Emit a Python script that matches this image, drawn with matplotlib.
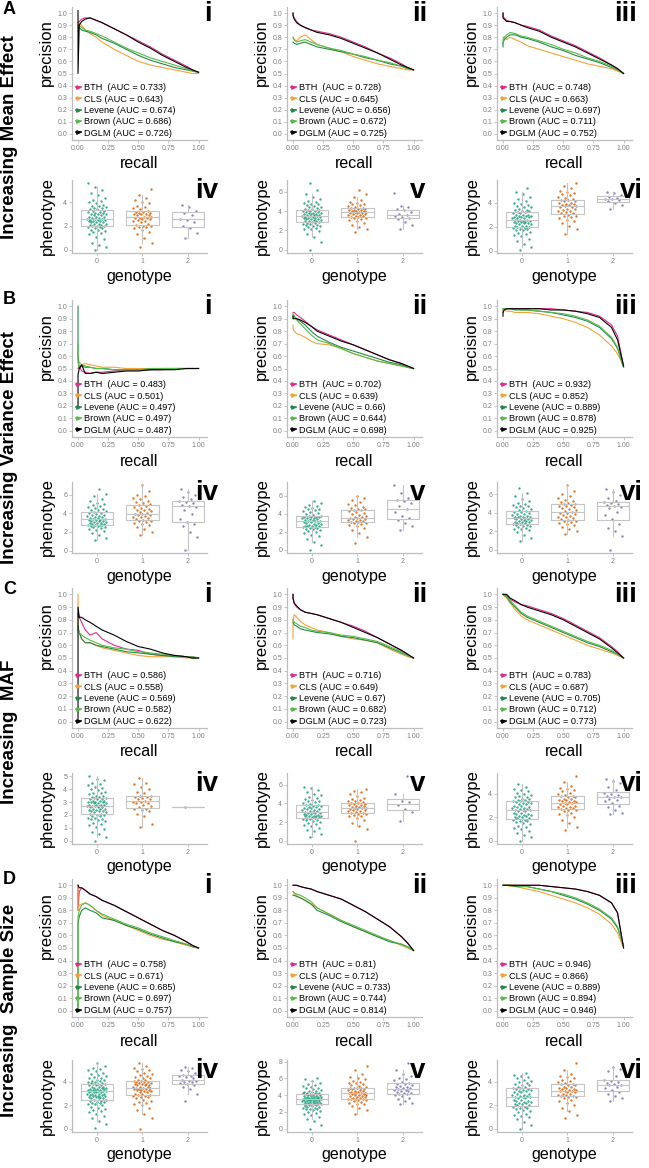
import numpy as np
import matplotlib
matplotlib.use("Agg")
import matplotlib.pyplot as plt
from matplotlib.lines import Line2D
from matplotlib.ticker import MultipleLocator

plt.rcParams['font.family'] = ['Liberation Sans', 'DejaVu Sans']

# ---------------- data ----------------
methods = ["BTH", "CLS", "Levene", "Brown", "DGLM"]
method_colors = ["#e7298a", "#f4a23a", "#23894a", "#55bb46", "#000000"]
recall = [0, 0, 0.01, 0.03, 0.06, 0.1, 0.15, 0.2, 0.3, 0.4, 0.5, 0.6, 0.7, 0.8, 0.9, 0.95, 1.0]

# precision per method (BTH, CLS, Levene, Brown, DGLM)
prec_A1 = [[0.92, 0.92, 0.93, 0.95, 0.96, 0.96, 0.94, 0.92, 0.87, 0.82, 0.77, 0.72, 0.66, 0.61, 0.56, 0.53, 0.51],
           [0.90, 0.90, 0.92, 0.90, 0.86, 0.83, 0.80, 0.76, 0.70, 0.65, 0.60, 0.57, 0.55, 0.53, 0.51, 0.50, 0.50],
           [0.85, 0.85, 0.88, 0.86, 0.85, 0.84, 0.82, 0.79, 0.75, 0.70, 0.65, 0.61, 0.58, 0.55, 0.53, 0.52, 0.51],
           [0.88, 0.88, 0.90, 0.88, 0.86, 0.85, 0.83, 0.81, 0.76, 0.71, 0.67, 0.63, 0.60, 0.57, 0.54, 0.52, 0.51],
           [1.02, 0.50, 0.90, 0.93, 0.95, 0.96, 0.94, 0.92, 0.87, 0.82, 0.76, 0.71, 0.65, 0.60, 0.55, 0.53, 0.51]]
prec_A2 = [[1.00, 0.98, 0.96, 0.93, 0.90, 0.88, 0.86, 0.85, 0.83, 0.80, 0.76, 0.72, 0.67, 0.63, 0.58, 0.55, 0.53],
           [0.80, 0.80, 0.78, 0.77, 0.80, 0.82, 0.78, 0.74, 0.71, 0.68, 0.64, 0.61, 0.58, 0.56, 0.54, 0.53, 0.53],
           [0.76, 0.76, 0.75, 0.74, 0.75, 0.76, 0.74, 0.72, 0.70, 0.68, 0.66, 0.63, 0.61, 0.58, 0.56, 0.54, 0.53],
           [0.80, 0.80, 0.78, 0.76, 0.77, 0.78, 0.76, 0.74, 0.71, 0.69, 0.66, 0.64, 0.61, 0.59, 0.56, 0.54, 0.53],
           [1.00, 0.98, 0.95, 0.92, 0.90, 0.88, 0.86, 0.84, 0.82, 0.79, 0.75, 0.71, 0.67, 0.62, 0.57, 0.55, 0.53]]
prec_A3 = [[1.00, 0.97, 0.96, 0.94, 0.93, 0.92, 0.90, 0.89, 0.86, 0.81, 0.77, 0.73, 0.68, 0.63, 0.57, 0.54, 0.50],
           [0.80, 0.80, 0.80, 0.78, 0.80, 0.78, 0.76, 0.73, 0.70, 0.67, 0.64, 0.61, 0.58, 0.56, 0.54, 0.52, 0.50],
           [0.72, 0.75, 0.78, 0.80, 0.82, 0.82, 0.80, 0.79, 0.76, 0.72, 0.69, 0.65, 0.62, 0.59, 0.55, 0.53, 0.50],
           [0.74, 0.78, 0.80, 0.82, 0.84, 0.83, 0.81, 0.80, 0.77, 0.74, 0.70, 0.67, 0.63, 0.60, 0.56, 0.53, 0.50],
           [1.00, 0.96, 0.95, 0.93, 0.93, 0.92, 0.90, 0.88, 0.85, 0.80, 0.76, 0.72, 0.67, 0.62, 0.57, 0.54, 0.50]]
prec_B1 = [[0.50, 0.50, 0.52, 0.48, 0.47, 0.46, 0.47, 0.47, 0.48, 0.49, 0.49, 0.49, 0.49, 0.50, 0.50, 0.50, 0.50],
           [0.58, 0.58, 0.55, 0.53, 0.54, 0.53, 0.52, 0.51, 0.51, 0.50, 0.50, 0.50, 0.50, 0.50, 0.50, 0.50, 0.50],
           [1.00, 0.60, 0.50, 0.52, 0.51, 0.51, 0.50, 0.50, 0.49, 0.49, 0.49, 0.49, 0.50, 0.50, 0.50, 0.50, 0.50],
           [0.70, 0.55, 0.51, 0.53, 0.52, 0.51, 0.50, 0.50, 0.49, 0.49, 0.49, 0.50, 0.50, 0.50, 0.50, 0.50, 0.50],
           [0.20, 0.45, 0.50, 0.53, 0.46, 0.46, 0.47, 0.46, 0.47, 0.48, 0.48, 0.49, 0.49, 0.49, 0.50, 0.50, 0.50]]
prec_B2 = [[0.95, 0.95, 0.95, 0.93, 0.91, 0.88, 0.84, 0.81, 0.77, 0.73, 0.69, 0.65, 0.61, 0.57, 0.54, 0.52, 0.50],
           [0.85, 0.82, 0.80, 0.78, 0.77, 0.75, 0.72, 0.70, 0.69, 0.66, 0.62, 0.59, 0.56, 0.54, 0.52, 0.51, 0.50],
           [0.92, 0.93, 0.92, 0.90, 0.88, 0.85, 0.80, 0.76, 0.71, 0.67, 0.64, 0.61, 0.58, 0.55, 0.53, 0.51, 0.50],
           [0.90, 0.94, 0.92, 0.89, 0.86, 0.82, 0.77, 0.73, 0.70, 0.66, 0.62, 0.59, 0.56, 0.54, 0.52, 0.51, 0.50],
           [0.92, 0.90, 0.90, 0.90, 0.89, 0.87, 0.84, 0.80, 0.76, 0.72, 0.69, 0.65, 0.61, 0.57, 0.54, 0.52, 0.50]]
prec_B3 = [[0.95, 0.97, 0.98, 0.98, 0.98, 0.98, 0.98, 0.98, 0.98, 0.98, 0.97, 0.96, 0.95, 0.92, 0.85, 0.76, 0.52],
           [0.96, 0.97, 0.97, 0.96, 0.96, 0.95, 0.95, 0.95, 0.94, 0.92, 0.90, 0.87, 0.83, 0.77, 0.68, 0.62, 0.52],
           [0.98, 0.98, 0.98, 0.98, 0.98, 0.97, 0.97, 0.97, 0.96, 0.95, 0.93, 0.91, 0.88, 0.83, 0.74, 0.66, 0.51],
           [0.97, 0.98, 0.98, 0.98, 0.98, 0.98, 0.97, 0.97, 0.96, 0.95, 0.94, 0.92, 0.89, 0.84, 0.75, 0.67, 0.51],
           [0.92, 0.95, 0.97, 0.98, 0.98, 0.98, 0.98, 0.98, 0.98, 0.97, 0.97, 0.96, 0.94, 0.91, 0.83, 0.73, 0.52]]
prec_C1 = [[0.85, 0.85, 0.82, 0.78, 0.72, 0.68, 0.70, 0.65, 0.60, 0.57, 0.56, 0.53, 0.52, 0.52, 0.51, 0.51, 0.50],
           [1.00, 0.72, 0.70, 0.65, 0.62, 0.62, 0.60, 0.58, 0.56, 0.54, 0.52, 0.51, 0.51, 0.51, 0.50, 0.50, 0.50],
           [0.75, 0.75, 0.70, 0.65, 0.62, 0.62, 0.60, 0.59, 0.57, 0.55, 0.54, 0.53, 0.52, 0.51, 0.51, 0.50, 0.50],
           [0.72, 0.72, 0.70, 0.68, 0.66, 0.64, 0.62, 0.60, 0.58, 0.57, 0.55, 0.54, 0.53, 0.52, 0.51, 0.51, 0.50],
           [0.00, 0.90, 0.82, 0.82, 0.80, 0.78, 0.75, 0.72, 0.68, 0.63, 0.59, 0.57, 0.54, 0.52, 0.51, 0.50, 0.50]]
prec_C2 = [[1.00, 0.97, 0.93, 0.90, 0.88, 0.86, 0.85, 0.84, 0.81, 0.78, 0.75, 0.71, 0.66, 0.61, 0.56, 0.53, 0.50],
           [0.65, 0.80, 0.84, 0.82, 0.79, 0.76, 0.74, 0.72, 0.70, 0.67, 0.65, 0.64, 0.62, 0.57, 0.53, 0.51, 0.50],
           [0.78, 0.78, 0.76, 0.75, 0.73, 0.72, 0.71, 0.70, 0.69, 0.67, 0.66, 0.64, 0.62, 0.58, 0.54, 0.52, 0.50],
           [0.80, 0.80, 0.78, 0.77, 0.75, 0.74, 0.72, 0.71, 0.70, 0.68, 0.67, 0.65, 0.63, 0.59, 0.55, 0.52, 0.50],
           [1.00, 0.97, 0.93, 0.91, 0.88, 0.86, 0.85, 0.84, 0.81, 0.78, 0.74, 0.70, 0.66, 0.61, 0.56, 0.53, 0.50]]
prec_C3 = [[1.00, 1.00, 1.00, 0.99, 0.96, 0.94, 0.92, 0.91, 0.88, 0.85, 0.81, 0.76, 0.71, 0.66, 0.59, 0.55, 0.50],
           [1.00, 1.00, 0.99, 0.97, 0.93, 0.88, 0.83, 0.80, 0.76, 0.72, 0.68, 0.64, 0.60, 0.57, 0.54, 0.52, 0.50],
           [1.00, 1.00, 0.99, 0.98, 0.94, 0.90, 0.85, 0.82, 0.78, 0.74, 0.70, 0.66, 0.62, 0.59, 0.55, 0.53, 0.50],
           [1.00, 1.00, 0.99, 0.98, 0.95, 0.91, 0.86, 0.83, 0.79, 0.75, 0.71, 0.67, 0.63, 0.60, 0.56, 0.53, 0.50],
           [1.00, 1.00, 1.00, 1.00, 0.97, 0.95, 0.92, 0.90, 0.87, 0.84, 0.80, 0.75, 0.70, 0.65, 0.58, 0.54, 0.50]]
prec_D1 = [[1.00, 0.80, 0.95, 0.98, 0.96, 0.93, 0.91, 0.88, 0.84, 0.79, 0.74, 0.69, 0.64, 0.60, 0.55, 0.52, 0.50],
           [1.00, 0.80, 0.84, 0.85, 0.86, 0.84, 0.80, 0.76, 0.72, 0.68, 0.64, 0.60, 0.57, 0.55, 0.52, 0.51, 0.50],
           [0.00, 0.70, 0.75, 0.80, 0.82, 0.80, 0.78, 0.74, 0.72, 0.68, 0.65, 0.61, 0.58, 0.55, 0.53, 0.51, 0.50],
           [0.00, 0.75, 0.80, 0.84, 0.86, 0.84, 0.80, 0.77, 0.73, 0.69, 0.66, 0.62, 0.59, 0.56, 0.53, 0.51, 0.50],
           [1.00, 1.00, 0.98, 0.98, 0.96, 0.93, 0.91, 0.88, 0.84, 0.79, 0.74, 0.69, 0.64, 0.60, 0.55, 0.52, 0.50]]
prec_D2 = [[1.00, 1.00, 1.00, 1.00, 0.99, 0.98, 0.97, 0.95, 0.92, 0.89, 0.84, 0.79, 0.73, 0.67, 0.59, 0.54, 0.48],
           [0.95, 0.95, 0.93, 0.92, 0.90, 0.88, 0.85, 0.82, 0.77, 0.72, 0.67, 0.63, 0.59, 0.56, 0.52, 0.50, 0.48],
           [0.92, 0.92, 0.92, 0.91, 0.90, 0.88, 0.85, 0.80, 0.76, 0.71, 0.67, 0.63, 0.59, 0.55, 0.53, 0.51, 0.48],
           [0.95, 0.95, 0.94, 0.93, 0.92, 0.90, 0.87, 0.82, 0.77, 0.72, 0.68, 0.64, 0.60, 0.56, 0.53, 0.51, 0.48],
           [1.00, 1.00, 1.00, 1.00, 0.99, 0.98, 0.97, 0.95, 0.92, 0.89, 0.84, 0.79, 0.73, 0.67, 0.59, 0.54, 0.48]]
prec_D3 = [[1.00, 1.00, 1.00, 1.00, 1.00, 1.00, 1.00, 1.00, 1.00, 0.99, 0.98, 0.97, 0.95, 0.92, 0.86, 0.78, 0.50],
           [1.00, 1.00, 1.00, 1.00, 0.99, 0.99, 0.98, 0.97, 0.95, 0.92, 0.89, 0.86, 0.82, 0.77, 0.69, 0.62, 0.50],
           [1.00, 1.00, 1.00, 1.00, 1.00, 0.99, 0.99, 0.99, 0.97, 0.95, 0.92, 0.89, 0.85, 0.80, 0.73, 0.66, 0.52],
           [1.00, 1.00, 1.00, 1.00, 1.00, 1.00, 0.99, 0.99, 0.97, 0.95, 0.93, 0.90, 0.86, 0.81, 0.74, 0.67, 0.52],
           [1.00, 1.00, 1.00, 1.00, 1.00, 1.00, 1.00, 1.00, 1.00, 0.99, 0.98, 0.97, 0.95, 0.92, 0.86, 0.78, 0.50]]

auc_A1 = [0.733, 0.643, 0.674, 0.686, 0.726]
auc_A2 = [0.728, 0.645, 0.656, 0.672, 0.725]
auc_A3 = [0.748, 0.663, 0.697, 0.711, 0.752]
auc_B1 = [0.483, 0.501, 0.497, 0.497, 0.487]
auc_B2 = [0.702, 0.639, 0.66, 0.644, 0.698]
auc_B3 = [0.932, 0.852, 0.889, 0.878, 0.925]
auc_C1 = [0.586, 0.558, 0.569, 0.582, 0.622]
auc_C2 = [0.716, 0.649, 0.67, 0.682, 0.723]
auc_C3 = [0.783, 0.687, 0.705, 0.712, 0.773]
auc_D1 = [0.758, 0.671, 0.685, 0.697, 0.757]
auc_D2 = [0.81, 0.712, 0.733, 0.744, 0.814]
auc_D3 = [0.946, 0.866, 0.889, 0.894, 0.946]

genotypes = ["0", "1", "2"]
geno_colors = ["#1b9e77", "#d95f02", "#7570b3"]

# phenotype values per genotype 0 / 1 / 2
pheno_A4 = ["0.0 0.2 0.4 0.6 0.9 1.1 1.3 1.4 1.5 1.6 1.7 1.7 1.8 1.8 1.9 1.9 2.0 2.0 2.0 2.1 2.1 2.2 2.2 2.2 2.3 2.3 2.3 2.4 2.4 2.4 2.5 2.5 2.5 2.6 2.6 2.6 2.7 2.7 2.8 2.8 2.8 2.9 2.9 3.0 3.0 3.0 3.1 3.1 3.2 3.2 3.3 3.3 3.4 3.4 3.5 3.5 3.6 3.7 3.7 3.8 3.9 4.0 4.1 4.2 4.4 4.6 4.8 5.0 5.3 5.6",
            "0.2 0.6 1.0 1.3 1.5 1.7 1.8 1.9 1.9 2.0 2.0 2.1 2.2 2.3 2.4 2.4 2.5 2.6 2.6 2.7 2.7 2.7 2.8 2.8 2.9 2.9 3.0 3.0 3.0 3.1 3.1 3.2 3.2 3.3 3.4 3.5 3.6 3.7 3.9 4.0 4.2 4.4 4.6 5.1",
            "1.0 1.4 1.8 2.0 2.3 2.5 2.6 2.9 3.1 3.3 3.6 3.8"]
pheno_A5 = ["0.0 0.8 1.3 1.6 1.9 2.1 2.2 2.3 2.4 2.5 2.5 2.6 2.6 2.7 2.7 2.8 2.8 2.9 2.9 3.0 3.0 3.0 3.1 3.1 3.2 3.2 3.2 3.3 3.3 3.3 3.4 3.4 3.4 3.5 3.5 3.5 3.6 3.6 3.6 3.7 3.7 3.7 3.8 3.8 3.8 3.9 3.9 4.0 4.0 4.0 4.1 4.1 4.2 4.2 4.3 4.4 4.4 4.5 4.6 4.7 4.8 4.9 5.0 5.1 5.3 5.5 5.8 6.2 6.9",
            "1.8 2.1 2.4 2.6 2.8 3.0 3.1 3.2 3.3 3.3 3.4 3.4 3.5 3.5 3.6 3.6 3.7 3.7 3.8 3.8 3.8 3.9 3.9 3.9 4.0 4.0 4.0 4.1 4.1 4.1 4.2 4.2 4.3 4.3 4.4 4.5 4.6 4.7 4.8 4.9 5.0 5.2 5.5 5.8 6.2",
            "2.2 2.6 2.9 3.2 3.3 3.4 3.5 3.6 3.7 3.9 4.1 4.2 4.4 4.5 5.9"]
pheno_A6 = ["0.1 0.3 0.6 0.8 1.0 1.2 1.3 1.4 1.5 1.6 1.7 1.7 1.8 1.8 1.9 1.9 2.0 2.0 2.1 2.1 2.1 2.2 2.2 2.3 2.3 2.3 2.4 2.4 2.4 2.5 2.5 2.5 2.6 2.6 2.6 2.7 2.7 2.7 2.8 2.8 2.8 2.9 2.9 2.9 3.0 3.0 3.0 3.1 3.1 3.2 3.2 3.3 3.3 3.4 3.4 3.5 3.6 3.6 3.7 3.8 3.9 4.0 4.1 4.3 4.5 4.7 4.9 5.2",
            "1.4 1.8 2.1 2.3 2.5 2.6 2.7 2.8 2.9 2.9 3.0 3.1 3.1 3.2 3.3 3.3 3.4 3.5 3.5 3.6 3.6 3.7 3.7 3.8 3.8 3.9 3.9 4.0 4.0 4.1 4.1 4.2 4.2 4.3 4.4 4.5 4.6 4.7 4.8 4.9 5.0 5.2 5.4 5.6",
            "3.5 3.8 4.0 4.1 4.2 4.3 4.3 4.4 4.5 4.6 4.8 4.9"]
pheno_B4 = ["1.1 1.4 1.7 1.9 2.1 2.2 2.3 2.4 2.5 2.5 2.6 2.6 2.7 2.7 2.8 2.8 2.9 2.9 3.0 3.0 3.0 3.1 3.1 3.2 3.2 3.2 3.3 3.3 3.3 3.4 3.4 3.5 3.5 3.6 3.6 3.7 3.7 3.8 3.8 3.9 4.0 4.0 4.1 4.2 4.3 4.4 4.5 4.6 4.7 4.8 4.9 5.0 5.1 5.3 5.5 5.8 6.1 6.6",
            "1.7 2.0 2.3 2.5 2.7 2.9 3.0 3.1 3.2 3.2 3.3 3.4 3.5 3.6 3.6 3.7 3.8 3.8 3.9 3.9 4.0 4.1 4.2 4.3 4.4 4.5 4.6 4.7 4.8 4.9 5.0 5.1 5.2 5.3 5.5 5.6 5.8 6.0 6.4 7.0",
            "0.1 1.5 2.0 2.6 2.9 3.1 3.4 3.9 4.3 4.7 4.8 4.9 5.1 5.2 5.3 5.5 5.7 6.0 6.3 6.6"]
pheno_B5 = ["0.0 0.5 0.9 1.2 1.5 1.7 1.9 2.0 2.1 2.2 2.3 2.3 2.4 2.4 2.5 2.5 2.6 2.6 2.7 2.7 2.8 2.8 2.9 2.9 3.0 3.0 3.1 3.1 3.2 3.2 3.2 3.3 3.3 3.4 3.4 3.5 3.5 3.5 3.6 3.6 3.7 3.7 3.8 3.8 3.9 4.0 4.1 4.2 4.3 4.4 4.5 4.6 4.7 4.8 4.9 5.0 5.2 5.4",
            "0.8 1.4 1.9 2.2 2.4 2.6 2.8 2.9 3.0 3.0 3.1 3.1 3.2 3.2 3.3 3.3 3.4 3.4 3.5 3.5 3.6 3.7 3.8 3.9 4.0 4.1 4.2 4.3 4.4 4.4 4.5 4.6 4.7 4.8 5.0 5.1 5.3 5.5 5.8 6.0",
            "2.2 2.6 3.0 3.3 3.5 3.8 4.2 4.6 4.9 5.2 5.4 5.6 5.8 6.3 7.2"]
pheno_B6 = ["1.0 1.3 1.6 1.9 2.1 2.2 2.3 2.4 2.5 2.6 2.6 2.7 2.7 2.8 2.8 2.9 2.9 3.0 3.0 3.0 3.1 3.1 3.2 3.2 3.3 3.3 3.3 3.4 3.4 3.5 3.5 3.6 3.6 3.7 3.7 3.8 3.9 3.9 4.0 4.1 4.1 4.2 4.3 4.4 4.5 4.6 4.7 4.8 4.9 5.0 5.1 5.3 5.5 5.8 6.2 6.7",
            "1.7 2.0 2.2 2.5 2.7 2.8 2.9 3.0 3.1 3.1 3.2 3.3 3.4 3.5 3.6 3.7 3.8 3.9 4.0 4.0 4.1 4.2 4.3 4.4 4.5 4.6 4.7 4.8 4.9 5.0 5.0 5.1 5.2 5.3 5.4 5.6 5.8 6.0 6.4 7.0",
            "0.0 1.5 2.0 2.4 2.8 3.3 3.8 4.1 4.5 4.6 4.8 4.9 5.0 5.1 5.2 5.3 5.6 5.9 6.3 6.6"]
pheno_C4 = ["0.0 0.3 0.5 0.7 0.9 1.1 1.2 1.3 1.4 1.5 1.6 1.7 1.7 1.8 1.8 1.9 1.9 2.0 2.0 2.1 2.1 2.2 2.2 2.3 2.3 2.3 2.4 2.4 2.5 2.5 2.5 2.6 2.6 2.6 2.7 2.7 2.7 2.7 2.8 2.8 2.8 2.8 2.9 2.9 2.9 3.0 3.0 3.0 3.0 3.1 3.1 3.1 3.2 3.2 3.2 3.3 3.3 3.4 3.4 3.5 3.5 3.6 3.7 3.7 3.8 3.9 4.0 4.1 4.2 4.3 4.4 4.5 4.7 4.8 5.0",
            "1.1 1.3 1.9 2.1 2.3 2.4 2.5 2.5 2.6 2.7 2.8 2.9 2.9 3.0 3.0 3.1 3.2 3.2 3.3 3.4 3.4 3.5 3.5 3.7 3.8 4.0 4.2 4.4 4.5 4.9",
            "2.6"]
pheno_C5 = ["0.4 0.7 1.0 1.2 1.4 1.6 1.7 1.8 1.9 2.0 2.1 2.2 2.2 2.3 2.3 2.4 2.4 2.5 2.5 2.6 2.6 2.7 2.7 2.7 2.8 2.8 2.9 2.9 3.0 3.0 3.0 3.1 3.1 3.2 3.2 3.3 3.3 3.4 3.4 3.5 3.5 3.6 3.6 3.7 3.7 3.8 3.8 3.9 4.0 4.1 4.2 4.3 4.4 4.5 4.6 4.7 4.9 5.0 5.2 5.4 5.6 5.8",
            "0.0 1.3 1.6 1.9 2.2 2.4 2.6 2.7 2.8 2.9 2.9 3.0 3.0 3.1 3.2 3.2 3.3 3.3 3.4 3.4 3.5 3.5 3.5 3.6 3.6 3.7 3.7 3.8 3.8 3.9 3.9 4.0 4.0 4.1 4.2 4.3 4.4 4.5 4.6 4.8 5.0 5.2 5.3 5.5",
            "2.1 3.1 3.4 3.8 4.1 4.3 5.0 6.9"]
pheno_C6 = ["0.0 0.3 0.5 0.7 0.8 1.0 1.1 1.2 1.3 1.4 1.5 1.6 1.7 1.7 1.8 1.8 1.9 1.9 2.0 2.0 2.1 2.1 2.2 2.2 2.3 2.3 2.4 2.4 2.5 2.5 2.6 2.6 2.6 2.7 2.7 2.8 2.8 2.9 2.9 3.0 3.0 3.1 3.1 3.2 3.2 3.3 3.3 3.4 3.4 3.5 3.5 3.6 3.6 3.7 3.7 3.8 3.9 4.0 4.1 4.2 4.3 4.4 4.6 4.8",
            "0.9 1.2 1.5 1.8 2.0 2.2 2.3 2.4 2.5 2.6 2.6 2.7 2.8 2.8 2.9 2.9 3.0 3.0 3.1 3.1 3.2 3.2 3.3 3.3 3.4 3.4 3.5 3.5 3.6 3.6 3.7 3.7 3.8 3.8 3.9 4.0 4.1 4.2 4.3 4.4 4.5 4.7 5.0 5.5",
            "2.3 2.4 2.6 2.9 3.0 3.2 3.4 3.5 3.6 3.7 3.7 3.8 3.9 4.0 4.1 4.3 4.6 4.9 5.1 5.3"]
pheno_D4 = ["0.1 0.4 0.7 0.9 1.1 1.3 1.4 1.5 1.6 1.7 1.8 1.9 2.0 2.1 2.1 2.2 2.2 2.3 2.3 2.4 2.4 2.5 2.5 2.6 2.6 2.6 2.7 2.7 2.7 2.8 2.8 2.8 2.9 2.9 2.9 3.0 3.0 3.0 3.0 3.1 3.1 3.1 3.1 3.2 3.2 3.2 3.2 3.3 3.3 3.3 3.3 3.4 3.4 3.4 3.5 3.5 3.5 3.6 3.6 3.6 3.7 3.7 3.7 3.8 3.8 3.8 3.9 3.9 4.0 4.0 4.1 4.1 4.2 4.2 4.3 4.3 4.4 4.5 4.6 4.7 4.8 4.9 5.0 5.1 5.2 5.4 5.6",
            "0.0 0.9 1.3 1.6 1.8 2.0 2.1 2.2 2.3 2.4 2.5 2.6 2.7 2.7 2.8 2.8 2.9 2.9 3.0 3.0 3.1 3.1 3.2 3.2 3.3 3.3 3.3 3.4 3.4 3.4 3.5 3.5 3.5 3.6 3.6 3.6 3.7 3.7 3.7 3.8 3.8 3.8 3.9 3.9 4.0 4.0 4.0 4.1 4.1 4.2 4.2 4.3 4.3 4.4 4.5 4.6 4.7 4.8 4.9 5.0 5.1 5.2 5.4 5.6",
            "2.4 3.0 3.4 3.6 3.7 3.8 3.9 4.0 4.0 4.1 4.1 4.2 4.3 4.4 4.5 4.5 4.6 4.8 4.9 5.0 5.2 5.3"]
pheno_D5 = ["0.0 0.5 0.9 1.2 1.4 1.6 1.8 1.9 2.0 2.1 2.2 2.3 2.3 2.4 2.5 2.5 2.6 2.6 2.7 2.7 2.8 2.8 2.9 2.9 2.9 3.0 3.0 3.0 3.1 3.1 3.1 3.2 3.2 3.2 3.2 3.3 3.3 3.3 3.3 3.4 3.4 3.4 3.4 3.5 3.5 3.5 3.5 3.5 3.6 3.6 3.6 3.6 3.7 3.7 3.7 3.7 3.8 3.8 3.8 3.8 3.9 3.9 3.9 4.0 4.0 4.0 4.1 4.1 4.1 4.2 4.2 4.3 4.3 4.4 4.4 4.5 4.5 4.6 4.7 4.8 4.9 5.0 5.1 5.2 5.3 5.5 5.7 5.9 6.1",
            "1.8 2.2 2.5 2.7 2.9 3.0 3.1 3.2 3.3 3.4 3.4 3.5 3.5 3.6 3.6 3.7 3.7 3.8 3.8 3.9 3.9 4.0 4.0 4.0 4.1 4.1 4.2 4.2 4.2 4.3 4.3 4.4 4.4 4.5 4.5 4.6 4.6 4.7 4.7 4.8 4.8 4.9 4.9 5.0 5.1 5.2 5.3 5.4 5.5 5.6 5.7 5.9 6.0 6.2 6.5 7.0 7.5",
            "2.9 3.1 3.3 3.5 3.7 3.9 4.0 4.1 4.1 4.2 4.3 4.4 4.5 4.5 4.6 4.6 4.7 4.8 4.9 5.0 5.0 5.1 5.2 5.3 5.3 5.5 5.6 5.8 5.9 6.1 6.3 6.5 7.0 7.8"]
pheno_D6 = ["0.0 0.3 0.6 0.8 1.0 1.1 1.2 1.3 1.4 1.5 1.6 1.7 1.8 1.8 1.9 1.9 2.0 2.0 2.1 2.1 2.2 2.2 2.3 2.3 2.4 2.4 2.5 2.5 2.6 2.6 2.7 2.7 2.7 2.8 2.8 2.9 2.9 3.0 3.0 3.1 3.1 3.2 3.2 3.3 3.3 3.4 3.4 3.5 3.5 3.6 3.6 3.7 3.7 3.8 3.9 4.0 4.1 4.2 4.3 4.4 4.5 4.6 4.8",
            "0.9 1.2 1.5 1.8 2.0 2.2 2.4 2.5 2.6 2.7 2.7 2.8 2.8 2.9 2.9 3.0 3.0 3.1 3.1 3.2 3.2 3.2 3.3 3.3 3.4 3.4 3.5 3.5 3.6 3.6 3.7 3.7 3.8 3.8 3.9 4.0 4.1 4.2 4.3 4.4 4.5 4.7 5.0 5.6",
            "2.4 2.6 2.8 3.0 3.1 3.3 3.5 3.6 3.7 3.7 3.8 3.9 4.0 4.1 4.2 4.5 4.9 5.1 5.3"]

pheno_tick_step = [[2, 2, 2], [2, 2, 2], [1, 2, 2], [2, 2, 2]]

section_letters = ["A", "B", "C", "D"]
section_titles = ["Increasing Mean Effect", "Increasing Variance Effect",
                  "Increasing  MAF", "Increasing  Sample Size"]
pr_numerals = ["i", "ii", "iii"]
box_numerals = ["iv", "v", "vi"]

precs = [[prec_A1, prec_A2, prec_A3], [prec_B1, prec_B2, prec_B3],
         [prec_C1, prec_C2, prec_C3], [prec_D1, prec_D2, prec_D3]]
aucs = [[auc_A1, auc_A2, auc_A3], [auc_B1, auc_B2, auc_B3],
        [auc_C1, auc_C2, auc_C3], [auc_D1, auc_D2, auc_D3]]
phenos = [[pheno_A4, pheno_A5, pheno_A6], [pheno_B4, pheno_B5, pheno_B6],
          [pheno_C4, pheno_C5, pheno_C6], [pheno_D4, pheno_D5, pheno_D6]]

# ---------------- layout (pixels) ----------------
W, H = 649, 1168
fig = plt.figure(figsize=(W / 100, H / 100), dpi=100)

col_left = [72, 287, 497]
col_w = 135
pr_rows = [(7, 133), (300, 137), (588, 140), (879, 138)]
box_rows = [(180, 73), (482, 71), (773, 71), (1060, 72)]
label_centers = [137, 447, 732, 1010]
letter_tops = [1, 291, 581, 871]

AX_GRAY = "#bdbdbd"
TICK_GRAY = "#7f7f7f"


def add_ax(left, top, w, h):
    return fig.add_axes([left / W, 1 - (top + h) / H, w / W, h / H])


def fx(px):
    return px / W


def fy(py):
    return 1 - py / H


def style(ax):
    for s in ("top", "right"):
        ax.spines[s].set_visible(False)
    for s in ("left", "bottom"):
        ax.spines[s].set_color(AX_GRAY)
        ax.spines[s].set_linewidth(0.9)
    ax.tick_params(length=2, width=0.6, color=AX_GRAY, labelsize=5,
                   labelcolor=TICK_GRAY, pad=1.5)


for s in range(4):
    pr_top, pr_h = pr_rows[s]
    bx_top, bx_h = box_rows[s]

    fig.text(fx(3), fy(letter_tops[s]), section_letters[s], fontsize=13,
             fontweight="bold", ha="left", va="top")
    fig.text(fx(10), fy(label_centers[s]), section_titles[s], fontsize=13.5,
             fontweight="bold", rotation=90, ha="center", va="center")

    for c in range(3):
        # precision-recall panel
        ax = add_ax(col_left[c], pr_top, col_w, pr_h)
        style(ax)
        for k in range(5):
            ax.plot(recall, precs[s][c][k], color=method_colors[k], lw=0.8)
        ax.set_xlim(-0.05, 1.07)
        ax.set_ylim(-0.05, 1.05)
        ax.set_xticks([0, 0.25, 0.5, 0.75, 1.0])
        ax.set_xticklabels(["0.00", "0.25", "0.50", "0.75", "1.00"])
        yt = np.round(np.arange(0, 1.01, 0.1), 1)
        ax.set_yticks(yt)
        ax.set_yticklabels([f"{v:.1f}" for v in yt])
        ax.set_ylabel("precision", fontsize=12)
        ax.yaxis.label.set_va("center")
        ax.yaxis.set_label_coords(-0.19, 0.66)
        ax.set_xlabel("recall", fontsize=11.5)
        ax.xaxis.label.set_va("center")
        ax.xaxis.set_label_coords(0.5, -24 / pr_h)

        handles = [Line2D([0], [0], color=method_colors[k], lw=1.2, marker=">",
                          markersize=2.5) for k in range(5)]
        labels = [f"{m}{'  ' if m == 'BTH' else ' '}(AUC = {a})"
                  for m, a in zip(methods, aucs[s][c])]
        ax.legend(handles, labels, loc="lower left", bbox_to_anchor=(0.0, -0.01),
                  frameon=False, fontsize=6.6, handlelength=0.6, handletextpad=0.3,
                  labelspacing=0.26, borderpad=0.2, borderaxespad=0.2)

        fig.text(fx(col_left[c] + col_w + 5), fy(pr_top - 6), pr_numerals[c],
                 fontsize=20, fontweight="bold", ha="right", va="top")

        # phenotype by genotype panel
        ax = add_ax(col_left[c], bx_top, col_w, bx_h)
        style(ax)
        groups = [np.array(txt.split(), dtype=float) for txt in phenos[s][c]]
        for g, vals in enumerate(groups):
            n = len(vals)
            off = ((np.arange(n) * 0.618034 + 0.37) % 1.0 - 0.5) * 0.42
            ax.scatter(g + off, vals, s=3, color=geno_colors[g], alpha=0.85,
                       linewidths=0, zorder=2)
        ax.boxplot(groups, positions=[0, 1, 2], widths=0.72, showfliers=False,
                   zorder=3,
                   boxprops=dict(color="#c4c4c4", lw=0.8),
                   whiskerprops=dict(color="#c4c4c4", lw=0.8),
                   capprops=dict(lw=0),
                   medianprops=dict(color="#c4c4c4", lw=0.8))
        ax.set_xlim(-0.55, 2.42)
        ax.set_xticks([0, 1, 2])
        ax.set_xticklabels(genotypes)
        ax.yaxis.set_major_locator(MultipleLocator(pheno_tick_step[s][c]))
        ax.set_ylabel("phenotype", fontsize=12)
        ax.yaxis.label.set_va("center")
        ax.yaxis.set_label_coords(-0.185, 0.5)
        ax.set_xlabel("genotype", fontsize=11.5)
        ax.xaxis.label.set_va("center")
        ax.xaxis.set_label_coords(0.5, -23 / bx_h)

        fig.text(fx(col_left[c] + col_w - 12), fy(bx_top + 11), box_numerals[c],
                 fontsize=20, fontweight="bold", ha="left", va="center")

fig.savefig("out.png", dpi=100)
